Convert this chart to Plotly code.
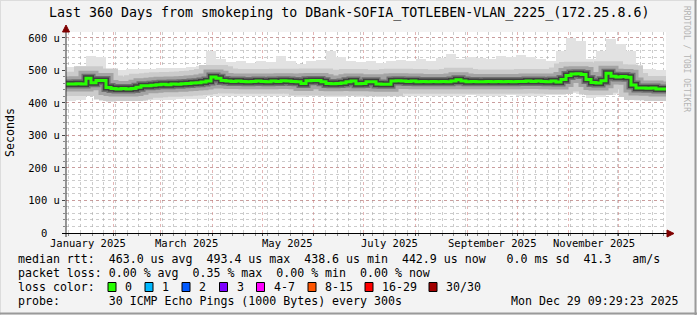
import plotly.graph_objects as go
import pandas as pd

# ---------------- data ----------------
start = pd.Timestamp("2025-01-03 09:29:23")
end = pd.Timestamp("2025-12-29 09:29:23")

# median RTT (microseconds), 3-day steps
median_us = [
    458, 458, 459, 458, 476, 462, 469, 469, 447, 444,
    443, 444, 443, 444, 448, 453, 453, 454, 456, 457,
    456, 458, 457, 459, 460, 461, 462, 464, 467, 480,
    476, 469, 467, 466, 467, 466, 465, 466, 467, 466,
    465, 467, 466, 468, 467, 466, 465, 460, 468, 469,
    469, 465, 460, 459, 460, 461, 465, 467, 459, 460,
    465, 465, 458, 457, 457, 467, 468, 467, 466, 467,
    465, 466, 465, 466, 465, 466, 465, 467, 471, 467,
    465, 466, 465, 465, 466, 465, 466, 465, 466, 465,
    466, 466, 467, 466, 467, 466, 465, 467, 464, 472,
    484, 489, 490, 487, 472, 463, 461, 468, 491, 482,
    480, 481, 479, 455, 446, 446, 445, 446, 443, 443,
]

# smoke envelope (microseconds), 6-day steps
smoke_max_us = [
    509, 515, 545, 540, 498, 502, 503, 505, 505, 507,
    506, 508, 510, 515, 560, 535, 525, 528, 522, 530,
    525, 545, 530, 520, 528, 532, 560, 540, 530, 525,
    528, 522, 530, 533, 528, 535, 530, 538, 550, 535,
    540, 538, 535, 545, 540, 548, 540, 535, 530, 560,
    600, 590, 535, 560, 595, 580, 560, 505, 503, 502,
]
smoke_min_us = [
    407, 410, 420, 420, 404, 405, 405, 406, 408, 410,
    410, 411, 412, 413, 420, 422, 420, 420, 421, 420,
    420, 420, 420, 418, 421, 420, 418, 418, 420, 418,
    420, 418, 420, 421, 420, 420, 421, 420, 421, 420,
    423, 422, 421, 422, 423, 422, 421, 422, 423, 425,
    430, 428, 416, 418, 425, 428, 420, 410, 410, 412,
]

y_ticks = [0, 100, 200, 300, 400, 500, 600]
y_tick_labels = ["0\u00a0\u00a0", "100 u", "200 u", "300 u", "400 u", "500 u", "600 u"]
month_labels = ["January 2025", "March 2025", "May 2025", "July 2025",
                "September 2025", "November 2025"]
month_starts = ["2025-01-01", "2025-03-01", "2025-05-01", "2025-07-01",
                "2025-09-01", "2025-11-01"]

loss_classes = ["0", "1", "2", "3", "4-7", "8-15", "16-29", "30/30"]
loss_colors = ["#26ff00", "#00b8ff", "#0059ff", "#7e00ff",
               "#ff00ff", "#ff5500", "#ff0000", "#a10000"]

title = "Last 360 Days from smokeping to DBank-SOFIA_TOTLEBEN-VLAN_2225_(172.25.8.6)"
stats_line1 = "median rtt:  463.0 us avg  493.4 us max  438.6 us min  442.9 us now   0.0 ms sd  41.3   am/s"
stats_line2 = "packet loss: 0.00 % avg  0.35 % max  0.00 % min  0.00 % now"
probe_line = "probe:       30 ICMP Echo Pings (1000 Bytes) every 300s"
stamp = "Mon Dec 29 09:29:23 2025"

# ---------------- geometry ----------------
W, H = 697, 315
L, T, PW, PH = 66, 32, 600, 201
MONO = "DejaVu Sans Mono"


def px(x):
    return (x - L) / PW


def py(y):
    return (T + PH - y) / PH


def nb(s):
    return s.replace(" ", "\u00a0")


fig = go.Figure()

# smoke (light envelope) as floating bars
n_s = len(smoke_max_us)
s_x = pd.date_range(start, end, periods=n_s + 1)[:-1]
s_w = (end - start).total_seconds() * 1000 / n_s
fig.add_trace(go.Bar(
    x=s_x, base=smoke_min_us,
    y=[a - b for a, b in zip(smoke_max_us, smoke_min_us)],
    width=s_w, offset=0, marker=dict(color="#e2e2e2", line=dict(width=0)),
    hoverinfo="skip", showlegend=False))

# median with graded smoke halo
n_m = len(median_us)
m_x = list(pd.date_range(start, end, periods=n_m + 1))
m_y = median_us + [median_us[-1]]
for w, c in [(24, "#cbcbcb"), (15, "#a4a4a4"), (9, "#707070"), (6, "#404040"), (3, "#26ff00")]:
    fig.add_trace(go.Scatter(x=m_x, y=m_y, mode="lines", line=dict(color=c, width=w, shape="hv"),
                             hoverinfo="skip", showlegend=False))

shapes = []
# frame shading
shapes.append(dict(type="line", xref="paper", yref="paper", x0=px(0), x1=px(W), y0=py(0.5), y1=py(0.5),
                   line=dict(color="#dcdcdc", width=1)))
shapes.append(dict(type="line", xref="paper", yref="paper", x0=px(0.5), x1=px(0.5), y0=py(0), y1=py(H),
                   line=dict(color="#dcdcdc", width=1)))
shapes.append(dict(type="line", xref="paper", yref="paper", x0=px(695.5), x1=px(695.5), y0=py(0), y1=py(H),
                   line=dict(color="#9a9a9a", width=2)))
shapes.append(dict(type="line", xref="paper", yref="paper", x0=px(0), x1=px(W), y0=py(313.5), y1=py(313.5),
                   line=dict(color="#9a9a9a", width=2)))
# axes
shapes.append(dict(type="line", xref="paper", yref="paper", x0=px(66), x1=px(66), y0=py(237), y1=py(29),
                   line=dict(color="#303030", width=1)))
shapes.append(dict(type="line", xref="paper", yref="paper", x0=px(62), x1=px(669), y0=py(233.5), y1=py(233.5),
                   line=dict(color="#000000", width=1)))
# arrows
shapes.append(dict(type="path", xref="paper", yref="paper",
                   path=f"M {px(62.5)},{py(32)} L {px(69.5)},{py(32)} L {px(66)},{py(25)} Z",
                   fillcolor="#7f0000", line=dict(color="#7f0000", width=1)))
shapes.append(dict(type="path", xref="paper", yref="paper",
                   path=f"M {px(667)},{py(230)} L {px(667)},{py(237)} L {px(674)},{py(233.5)} Z",
                   fillcolor="#7f0000", line=dict(color="#7f0000", width=1)))

ann = []
ann.append(dict(text=nb(title), x=px(W / 2), y=py(13), xref="paper", yref="paper",
                showarrow=False, xanchor="center", yanchor="middle",
                font=dict(family=MONO, size=13.3, color="#000000")))
ann.append(dict(text="Seconds", x=px(10), y=py(133), xref="paper", yref="paper", textangle=-90,
                showarrow=False, xanchor="center", yanchor="middle",
                font=dict(family=MONO, size=11.6, color="#000000")))
ann.append(dict(text=nb("RRDTOOL / TOBI OETIKER"), x=px(687), y=py(59), xref="paper", yref="paper",
                textangle=90, showarrow=False, xanchor="center", yanchor="middle",
                font=dict(family=MONO, size=8, color="#b4b4b4")))
# month labels centred on their month
for lab, ms in zip(month_labels, month_starts):
    a = pd.Timestamp(ms)
    b = a + pd.offsets.MonthBegin(1)
    ann.append(dict(text=nb(lab), x=a + (b - a) / 2, y=0, xref="x", yref="paper",
                    yshift=-2, showarrow=False, xanchor="center", yanchor="top",
                    font=dict(family=MONO, size=10.5, color="#000000")))

LF = dict(family=MONO, size=11.6, color="#000000")
for txt, yy in [(stats_line1, 259), (stats_line2, 273), ("loss color:", 287), (probe_line, 301)]:
    ann.append(dict(text=nb(txt), x=px(16), y=py(yy), xref="paper", yref="paper",
                    showarrow=False, xanchor="left", yanchor="middle", font=LF))
ann.append(dict(text=nb(stamp), x=px(681), y=py(301), xref="paper", yref="paper",
                showarrow=False, xanchor="right", yanchor="middle", font=LF))

box_x = [108, 145, 182, 219.5, 256.5, 308, 365, 429]
for bx, lab, col in zip(box_x, loss_classes, loss_colors):
    shapes.append(dict(type="rect", xref="paper", yref="paper", x0=px(bx), x1=px(bx + 8),
                       y0=py(291.5), y1=py(282.5), fillcolor=col, line=dict(color="#000000", width=1)))
    ann.append(dict(text=nb(lab), x=px(bx + 15), y=py(287), xref="paper", yref="paper",
                    showarrow=False, xanchor="left", yanchor="middle", font=LF))

fig.update_layout(
    width=W, height=H,
    margin=dict(l=L, r=W - L - PW, t=T, b=H - T - PH, pad=0),
    paper_bgcolor="#f3f3f3", plot_bgcolor="#ffffff",
    showlegend=False, bargap=0,
    shapes=shapes, annotations=ann,
    xaxis=dict(type="date", range=[start, end], showline=False, zeroline=False,
               dtick="M1", tick0="2025-01-01", showticklabels=False,
               showgrid=True, gridcolor="rgba(200,110,110,0.5)", griddash="dot", gridwidth=1,
               ticks="outside", ticklen=2, tickcolor="#444444",
               minor=dict(dtick=7 * 86400000, tick0="2025-01-05", showgrid=True,
                          gridcolor="rgba(170,170,170,0.6)", griddash="dot", gridwidth=1,
                          ticks="outside", ticklen=2, tickcolor="#888888")),
    yaxis=dict(range=[0, 618], showline=False, zeroline=False,
               tickmode="array", tickvals=y_ticks, ticktext=y_tick_labels,
               tickfont=dict(family=MONO, size=10.5, color="#000000"),
               showgrid=True, gridcolor="rgba(200,110,110,0.5)", griddash="dot", gridwidth=1,
               ticks="outside", ticklen=3, tickcolor="#444444",
               minor=dict(dtick=20, tick0=0, showgrid=True,
                          gridcolor="rgba(170,170,170,0.6)", griddash="dot", gridwidth=1,
                          ticks="outside", ticklen=2, tickcolor="#888888")),
)

fig.write_html("out.html", config={"displayModeBar": False})
